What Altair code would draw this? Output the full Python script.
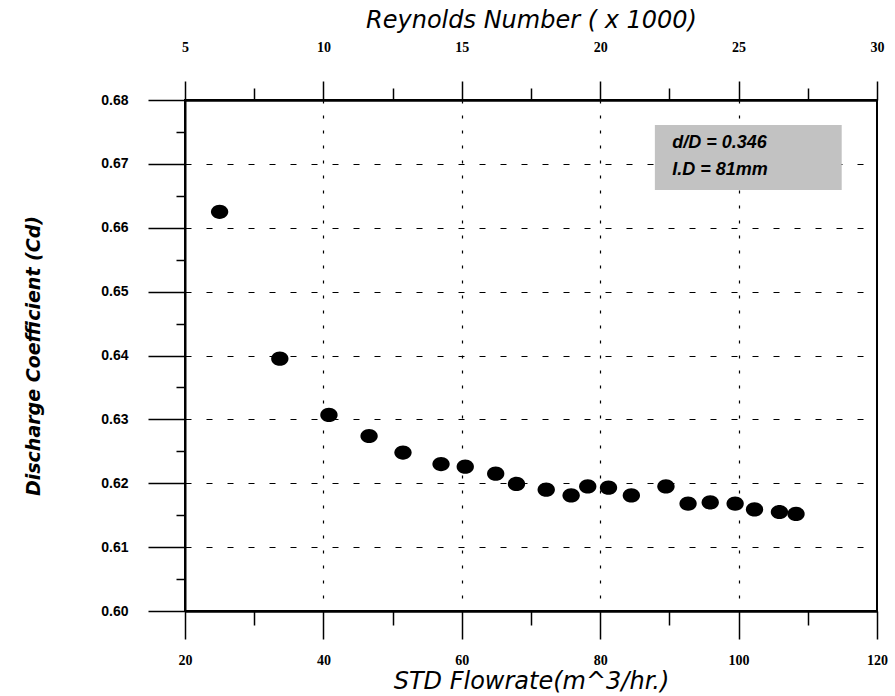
import altair as alt
import pandas as pd

# Data
flow = [25.0, 33.7, 40.8, 46.6, 51.5, 57.0, 60.5, 64.9, 67.9, 72.2, 75.8,
        78.2, 81.2, 84.5, 89.5, 92.7, 95.9, 99.5, 102.3, 105.9, 108.3]
cd = [0.6625, 0.6395, 0.6307, 0.6274, 0.6248, 0.6230, 0.6226, 0.6215, 0.6199,
      0.6190, 0.6181, 0.6195, 0.6193, 0.6181, 0.6195, 0.6168, 0.6170, 0.6168,
      0.6159, 0.6155, 0.6152]

x_ticks = list(range(20, 121, 10))
y_ticks = [round(0.600 + 0.005 * i, 3) for i in range(17)]
re_ticks = [5 + 2.5 * i for i in range(11)]
re_domain = [5, 30]

note_lines = ["d/D = 0.346", "I.D = 81mm"]
note_x = [90.4, 90.4]
note_y = [0.6732, 0.6690]
box = {"x": [87.9], "x2": [114.9], "y": [0.6761], "y2": [0.6659]}

XD = [20, 120]
YD = [0.60, 0.68]

pts = pd.DataFrame({"flow": flow, "cd": cd})
notes = pd.DataFrame({"t": note_lines, "x": note_x, "y": note_y})
boxdf = pd.DataFrame(box)
redf = pd.DataFrame({"re": re_domain})

sans = "Liberation Sans"
wide = "DejaVu Sans"
serif = "Liberation Serif"

x_axis = alt.Axis(
    values=x_ticks, orient="bottom", labelFlush=False,
    labelExpr="datum.value % 20 === 0 ? datum.label : ''",
    tickSize={"condition": {"test": "datum.value % 20 === 0", "value": 28}, "value": 14},
    tickColor="black", tickWidth=1.5,
    domainColor="black", domainWidth=2.5,
    grid=True, gridColor="black", gridDash=[3, 12], gridWidth=1.2,
    gridOpacity={"condition": {"test": "datum.value % 20 === 0 && datum.value > 20 && datum.value < 120", "value": 1}, "value": 0},
    labelFont=serif, labelFontSize=14, labelFontWeight="bold", labelColor="black", labelPadding=14,
    title="STD Flowrate(m^3/hr.)", titleFont=wide, titleFontSize=24,
    titleFontStyle="italic", titleFontWeight="normal", titleColor="black", titlePadding=2,
)

y_axis = alt.Axis(
    values=y_ticks, orient="left", format=".2f", labelFlush=False,
    labelExpr="round(datum.value * 1000) % 10 === 0 ? datum.label : ''",
    tickSize={"condition": {"test": "round(datum.value * 1000) % 10 === 0", "value": 37}, "value": 9},
    tickColor="black", tickWidth=1.5,
    domainColor="black", domainWidth=2,
    grid=True, gridColor="black", gridDash=[6, 15], gridWidth=1.2,
    gridOpacity={"condition": {"test": "round(datum.value * 1000) % 10 === 0 && datum.value > 0.601 && datum.value < 0.679", "value": 1}, "value": 0},
    labelFont=sans, labelFontSize=14, labelFontWeight="bold", labelColor="black",
    labelPadding=20,
    title="Discharge Coefficient (Cd)", titleFont=wide, titleFontSize=19,
    titleFontStyle="italic", titleFontWeight="bold", titleColor="black", titlePadding=57,
)

top_axis = alt.Axis(
    values=re_ticks, orient="top", labelFlush=False,
    labelExpr="datum.value % 5 === 0 ? format(datum.value, 'd') : ''",
    tickSize={"condition": {"test": "datum.value % 5 === 0", "value": 19}, "value": 12},
    tickColor="black", tickWidth=1.5,
    domainColor="black", domainWidth=2.5, grid=False,
    labelFont=serif, labelFontSize=14, labelFontWeight="bold", labelColor="black", labelPadding=27,
    title="Reynolds Number ( x 1000)", titleFont=wide, titleFontSize=24,
    titleFontStyle="italic", titleFontWeight="normal", titleColor="black", titlePadding=8,
)

points = alt.Chart(pts).mark_point(
    shape="M-1,0A1,0.82,0,1,1,1,0A1,0.82,0,1,1,-1,0Z",
    filled=True, color="black", opacity=1, size=300,
).encode(
    x=alt.X("flow:Q", scale=alt.Scale(domain=XD, nice=False, zero=False), axis=x_axis),
    y=alt.Y("cd:Q", scale=alt.Scale(domain=YD, nice=False, zero=False), axis=y_axis),
)

rect = alt.Chart(boxdf).mark_rect(color="#c2c2c2").encode(
    x=alt.X("x:Q", scale=alt.Scale(domain=XD, nice=False, zero=False), axis=None),
    x2="x2:Q",
    y=alt.Y("y:Q", scale=alt.Scale(domain=YD, nice=False, zero=False), axis=None),
    y2="y2:Q",
)

text = alt.Chart(notes).mark_text(
    align="left", baseline="middle", font=sans, fontSize=18,
    fontStyle="italic", fontWeight="bold", color="black",
).encode(
    x=alt.X("x:Q", scale=alt.Scale(domain=XD, nice=False, zero=False), axis=None),
    y=alt.Y("y:Q", scale=alt.Scale(domain=YD, nice=False, zero=False), axis=None),
    text="t:N",
)

top = alt.Chart(redf).mark_point(opacity=0).encode(
    x=alt.X("re:Q", scale=alt.Scale(domain=re_domain, nice=False, zero=False), axis=top_axis),
)

chart = alt.layer(points, rect, text, top).resolve_scale(
    x="independent", y="independent"
).properties(
    width=692, height=511,
    autosize=alt.AutoSizeParams(type="none"),
    padding={"left": 185, "top": 100, "right": 18, "bottom": 85},
    background="white",
).configure_view(stroke="black", strokeWidth=2)

chart.save("out.html", embed_options={"renderer": "svg", "actions": False})
